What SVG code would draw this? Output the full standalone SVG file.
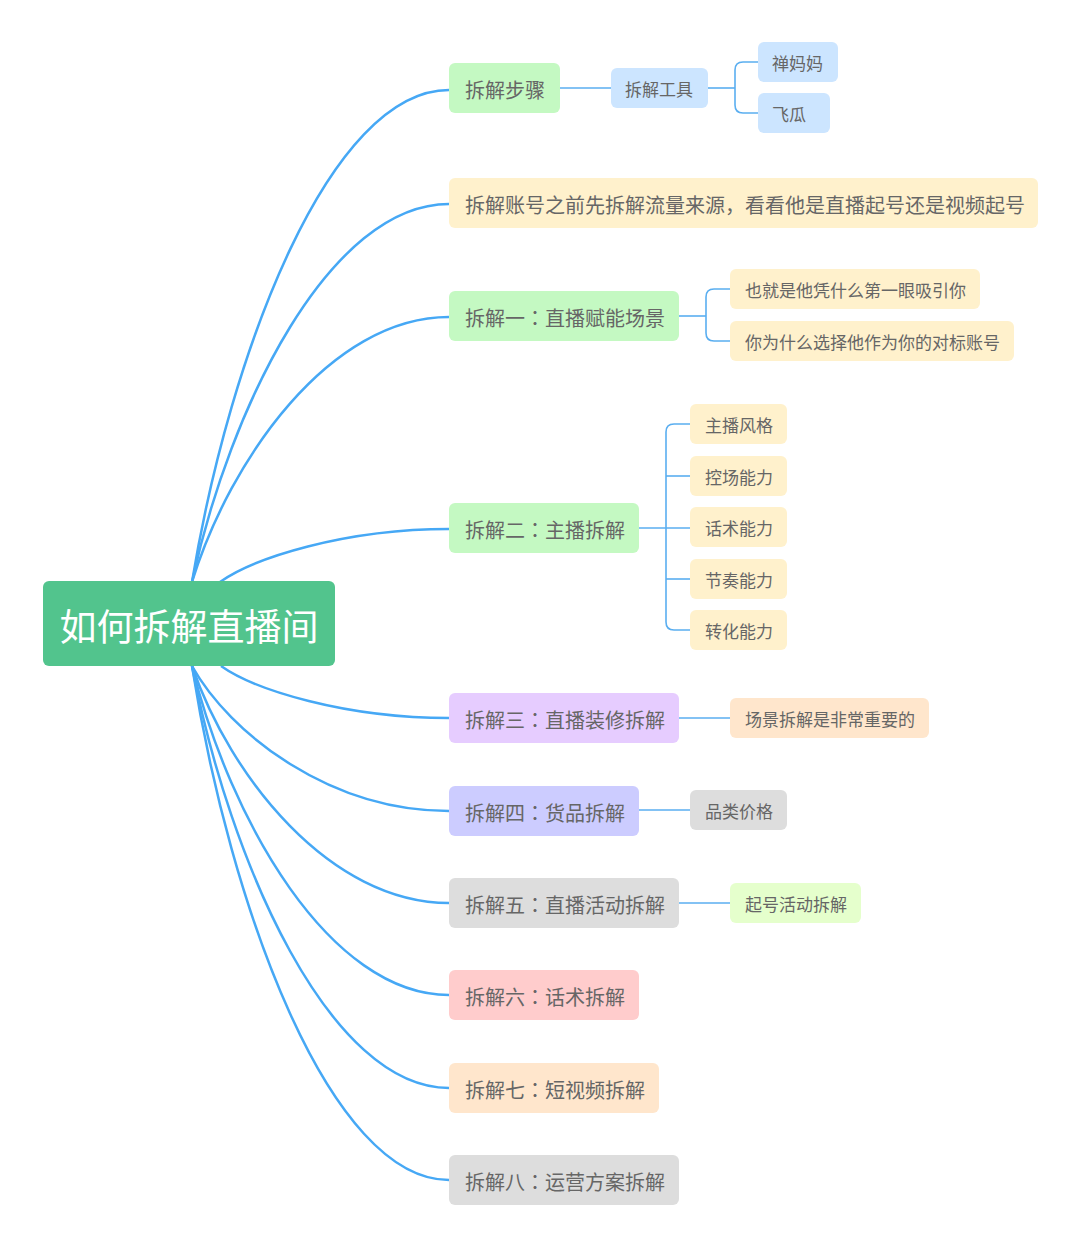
<svg xmlns="http://www.w3.org/2000/svg" width="1080" height="1248" viewBox="0 0 1080 1248">
<style>
text{font-family:"Noto Sans CJK SC","Noto Sans",sans-serif;fill:#666666;dominant-baseline:central}
.p{font-family:"Noto Sans CJK TC","Noto Sans CJK SC",sans-serif}
.l1{font-size:20px}
.l2{font-size:17px}
.root{font-size:37px;fill:#ffffff}
.c{fill:none;stroke:#46A8F5;stroke-width:2.5}
.s{fill:none;stroke:#5AAEF0;stroke-width:1.6}
.green{fill:#C4F9C2}.yellow{fill:#FFF1CC}.blue{fill:#CCE5FF}.purple{fill:#E6CCFF}
.violet{fill:#CCCCFF}.gray{fill:#DDDDDD}.pink{fill:#FFCCCC}.peach{fill:#FFE6CC}.lime{fill:#E5FFCC}
</style>
<rect width="1080" height="1248" fill="#ffffff"/>
<g id="connectors">
<path class="c" d="M192,582 C230,351 330,90 449,90"/>
<path class="c" d="M192,582 C230,406 330,204 449,204"/>
<path class="c" d="M192,582 C230,459 330,317 449,317"/>
<path class="c" d="M220,582 C254,558 344,529 449,529"/>
<path class="c" d="M221,666 C255,690 345,718 449,718"/>
<path class="c" d="M192,666 C230,734 330,811 449,811"/>
<path class="c" d="M192,666 C230,777 330,903 449,903"/>
<path class="c" d="M192,666 C230,821 330,995 449,995"/>
<path class="c" d="M192,666 C230,864 330,1088 449,1088"/>
<path class="c" d="M192,666 C230,908 330,1180 449,1180"/>
<path class="s" d="M560,88 H611"/>
<path class="s" d="M708,88 H735"/>
<path class="s" d="M758,62 H743 Q735,62 735,70 V105 Q735,113 743,113 H758"/>
<path class="s" d="M679,316 H706"/>
<path class="s" d="M730,289 H714 Q706,289 706,297 V333 Q706,341 714,341 H730"/>
<path class="s" d="M639,528 H690"/>
<path class="s" d="M690,424 H674 Q666,424 666,432 V622 Q666,630 674,630 H690"/>
<path class="s" d="M666,476 H690"/>
<path class="s" d="M666,579 H690"/>
<path class="s" d="M679,718 H730"/>
<path class="s" d="M639,810 H690"/>
<path class="s" d="M679,903 H730"/>
</g>
<g id="root"><rect x="43" y="581" width="292" height="85" rx="6" fill="#52C48D"/><text class="root" x="189" y="625" text-anchor="middle">如何拆解直播间</text></g>
<g id="n1"><rect class="green" x="449" y="63" width="111" height="50" rx="6"/><text class="l1" x="465" y="89">拆解步骤</text></g>
<g id="n1a"><rect class="blue" x="611" y="68" width="97" height="40" rx="6"/><text class="l2" x="625" y="88">拆解工具</text></g>
<g id="n1a1"><rect class="blue" x="758" y="42" width="80" height="40" rx="6"/><text class="l2" x="772" y="62">禅妈妈</text></g>
<g id="n1a2"><rect class="blue" x="758" y="93" width="72" height="40" rx="6"/><text class="l2" x="772" y="113">飞瓜</text></g>
<g id="n2"><rect class="yellow" x="449" y="178" width="589" height="50" rx="6"/><text class="l1" x="465" y="204">拆解账号之前先拆解流量来源，看看他是直播起号还是视频起号</text></g>
<g id="n3"><rect class="green" x="449" y="291" width="230" height="50" rx="6"/><text class="l1" x="465" y="317">拆解一<tspan class="p">：</tspan>直播赋能场景</text></g>
<g id="n3a"><rect class="yellow" x="730" y="269" width="250" height="40" rx="6"/><text class="l2" x="745" y="289">也就是他凭什么第一眼吸引你</text></g>
<g id="n3b"><rect class="yellow" x="730" y="321" width="284" height="40" rx="6"/><text class="l2" x="745" y="341">你为什么选择他作为你的对标账号</text></g>
<g id="n4"><rect class="green" x="449" y="503" width="190" height="50" rx="6"/><text class="l1" x="465" y="529">拆解二<tspan class="p">：</tspan>主播拆解</text></g>
<g id="n4a"><rect class="yellow" x="690" y="404" width="97" height="40" rx="6"/><text class="l2" x="705" y="424">主播风格</text></g>
<g id="n4b"><rect class="yellow" x="690" y="456" width="97" height="40" rx="6"/><text class="l2" x="705" y="476">控场能力</text></g>
<g id="n4c"><rect class="yellow" x="690" y="507" width="97" height="40" rx="6"/><text class="l2" x="705" y="527">话术能力</text></g>
<g id="n4d"><rect class="yellow" x="690" y="559" width="97" height="40" rx="6"/><text class="l2" x="705" y="579">节奏能力</text></g>
<g id="n4e"><rect class="yellow" x="690" y="610" width="97" height="40" rx="6"/><text class="l2" x="705" y="630">转化能力</text></g>
<g id="n5"><rect class="purple" x="449" y="693" width="230" height="50" rx="6"/><text class="l1" x="465" y="719">拆解三<tspan class="p">：</tspan>直播装修拆解</text></g>
<g id="n5a"><rect class="peach" x="730" y="698" width="199" height="40" rx="6"/><text class="l2" x="745" y="718">场景拆解是非常重要的</text></g>
<g id="n6"><rect class="violet" x="449" y="786" width="190" height="50" rx="6"/><text class="l1" x="465" y="812">拆解四<tspan class="p">：</tspan>货品拆解</text></g>
<g id="n6a"><rect class="gray" x="690" y="790" width="97" height="40" rx="6"/><text class="l2" x="705" y="810">品类价格</text></g>
<g id="n7"><rect class="gray" x="449" y="878" width="230" height="50" rx="6"/><text class="l1" x="465" y="904">拆解五<tspan class="p">：</tspan>直播活动拆解</text></g>
<g id="n7a"><rect class="lime" x="730" y="883" width="131" height="40" rx="6"/><text class="l2" x="745" y="903">起号活动拆解</text></g>
<g id="n8"><rect class="pink" x="449" y="970" width="190" height="50" rx="6"/><text class="l1" x="465" y="996">拆解六<tspan class="p">：</tspan>话术拆解</text></g>
<g id="n9"><rect class="peach" x="449" y="1063" width="210" height="50" rx="6"/><text class="l1" x="465" y="1089">拆解七<tspan class="p">：</tspan>短视频拆解</text></g>
<g id="n10"><rect class="gray" x="449" y="1155" width="230" height="50" rx="6"/><text class="l1" x="465" y="1181">拆解八<tspan class="p">：</tspan>运营方案拆解</text></g>
</svg>
